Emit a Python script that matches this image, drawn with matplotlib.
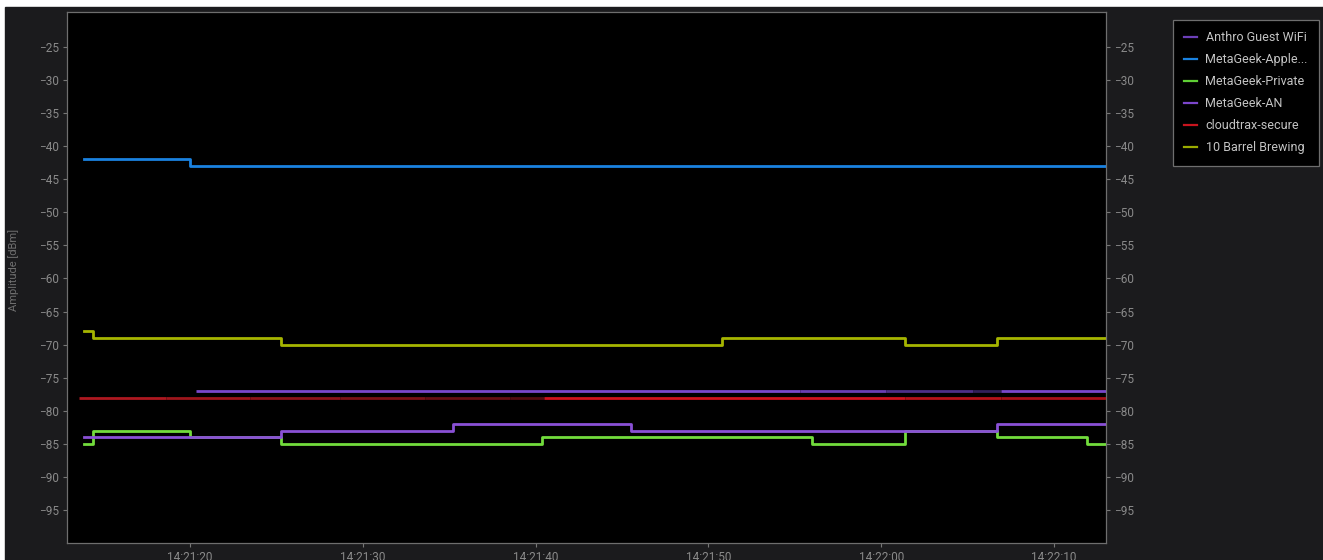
import matplotlib
matplotlib.use("Agg")
import matplotlib.pyplot as plt
from matplotlib.patches import Rectangle
from matplotlib.lines import Line2D

# time axis is seconds after 14:21:00
tick_secs = [20, 30, 40, 50, 60, 70]
tick_labels = ["14:21:20", "14:21:30", "14:21:40", "14:21:50", "14:22:00", "14:22:10"]
y_ticks = list(range(-95, -24, 5))
t_end = 73.0

# step series: change times and values (held until next change)
apple_t = [13.9, 20.0]
apple_v = [-42, -43]

barrel_t = [13.9, 14.4, 25.3, 50.8, 61.4, 66.7]
barrel_v = [-68, -69, -70, -69, -70, -69]

private_t = [13.9, 14.4, 20.0, 25.3, 40.4, 56.0, 61.4, 66.7, 71.9]
private_v = [-85, -83, -84, -85, -84, -85, -83, -84, -85]

an_t = [13.9, 25.3, 35.2, 45.5, 66.7]
an_v = [-84, -83, -82, -83, -82]

# constant lines drawn in pieces (the app fades older parts)
cloud_level = -78
cloud_breaks = [13.6, 18.6, 23.5, 28.7, 33.6, 38.5, 40.5, 61.4, 66.9, t_end]
cloud_cols = ["#ae1820", "#9e161c", "#8c141a", "#7a1217", "#660f13", "#520c10",
              "#d0131d", "#b81219", "#a81118"]

anthro_level = -77
anthro_breaks = [20.35, 55.3, 60.3, 65.3, 66.9, t_end]
anthro_cols = ["#7a48cc", "#6a3fb3", "#4e3088", "#32205a", "#7a48cc"]

legend_names = ["Anthro Guest WiFi", "MetaGeek-Apple...", "MetaGeek-Private",
                "MetaGeek-AN", "cloudtrax-secure", "10 Barrel Brewing"]
legend_cols = ["#6c3fb8", "#1a82e0", "#5fcf35", "#7c46cc", "#c8141e", "#9aab00"]

plt.rcParams["font.family"] = ["Roboto", "DejaVu Sans"]

W, H = 1323, 560
fig = plt.figure(figsize=(W / 100, H / 100), dpi=100, facecolor="white")
fig.patches.append(Rectangle((5 / W, 0), 1 - 5 / W, (H - 7) / H,
                             transform=fig.transFigure, color="#1b1b1d", zorder=-10))

ax = fig.add_axes([67 / W, (H - 543) / H, (1106 - 67) / W, (543 - 12) / H])
ax.set_facecolor("black")


def step_line(ts, vs, color, z):
    ax.step(ts + [t_end], vs + [vs[-1]], where="post", color=color, lw=2.0, zorder=z,
            solid_joinstyle="round")


def faded_line(level, breaks, cols, z):
    for i, c in enumerate(cols):
        ax.plot([breaks[i], breaks[i + 1]], [level, level], color=c, lw=2.0, zorder=z,
                solid_capstyle="butt")


step_line(apple_t, apple_v, "#1a82e0", 3)
step_line(barrel_t, barrel_v, "#a6b500", 3)
faded_line(cloud_level, cloud_breaks, cloud_cols, 3)
step_line(private_t, private_v, "#72dc3c", 3)
faded_line(anthro_level, anthro_breaks, anthro_cols, 4)
step_line(an_t, an_v, "#8a50d6", 5)

ax.set_xlim(12.9, t_end)
ax.set_ylim(-100, -19.7)
ax.set_xticks(tick_secs)
ax.set_xticklabels(tick_labels)
ax.set_yticks(y_ticks)

tick_col = "#8a8a8a"
ax.tick_params(axis="both", colors="#777777", labelcolor=tick_col, labelsize=8.5,
               length=3, width=0.8)
ax.tick_params(axis="y", right=True, labelright=True, pad=3)
ax.tick_params(axis="x", pad=3)
for s in ax.spines.values():
    s.set_color("#6e6e6e")
    s.set_linewidth(0.9)

fig.text(14 / W, 1 - 270 / H, "Amplitude [dBm]", rotation=90, color="#6f6f6f",
         fontsize=8, ha="center", va="center")

handles = [Line2D([0], [0], color=c, lw=1.6) for c in legend_cols]
leg = fig.legend(handles, legend_names, loc="upper left",
                 bbox_to_anchor=(1173 / W, 1 - 20 / H), frameon=True,
                 fontsize=9, handlelength=1.0, handletextpad=0.7,
                 labelspacing=0.72, borderpad=0.9, fancybox=False,
                 borderaxespad=0)
leg.get_frame().set_facecolor("black")
leg.get_frame().set_edgecolor("#6e6e6e")
leg.get_frame().set_linewidth(0.9)
leg.get_frame().set_alpha(1)
for t in leg.get_texts():
    t.set_color("#c4c4c4")

fig.savefig("out.png", dpi=100, facecolor=fig.get_facecolor())
